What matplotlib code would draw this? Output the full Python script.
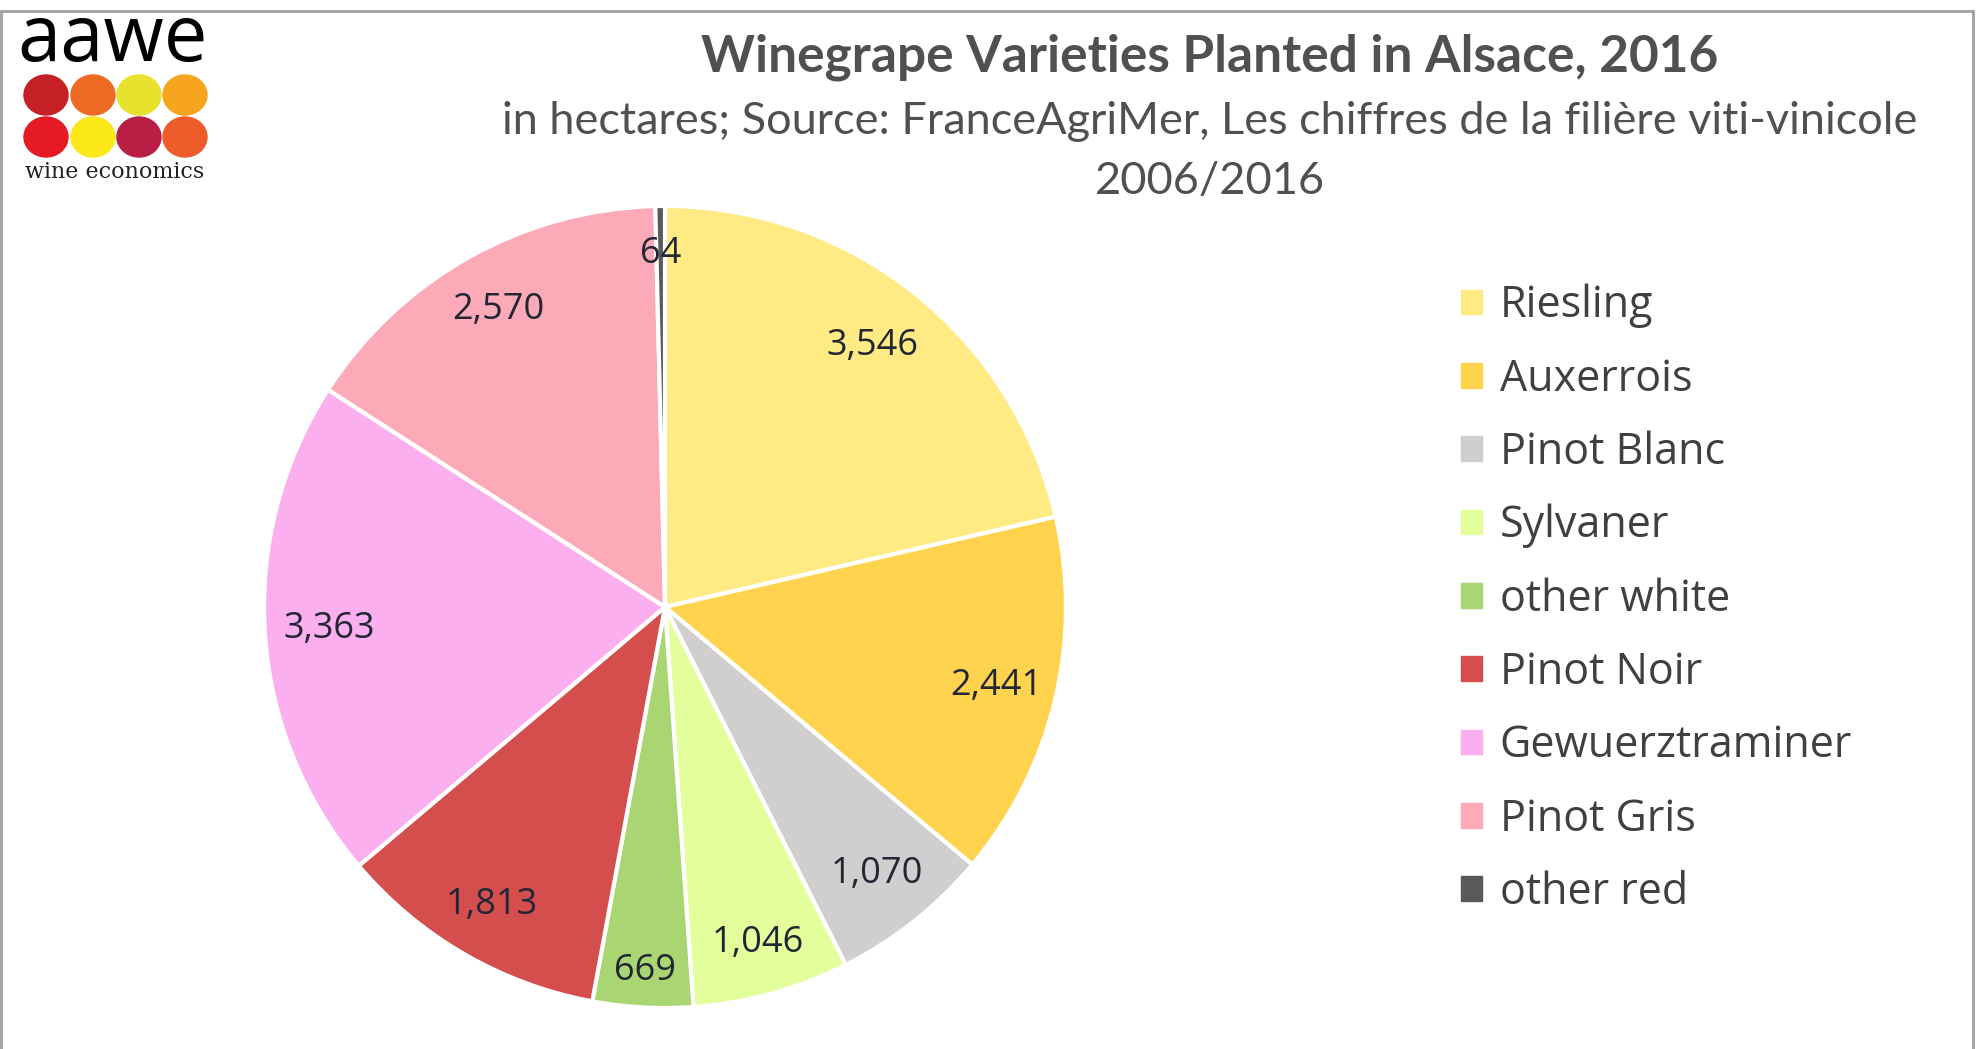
import matplotlib.pyplot as plt
import matplotlib.patches as mpatches
import numpy as np

# data: hectares per variety, Alsace 2016
varieties = ["Riesling", "Auxerrois", "Pinot Blanc", "Sylvaner", "other white",
             "Pinot Noir", "Gewuerztraminer", "Pinot Gris", "other red"]
hectares = [3546, 2441, 1070, 1046, 669, 1813, 3363, 2570, 64]
colors = ["#FFEA84", "#FFD34E", "#D0CECE", "#E2FF9C", "#A9D673",
          "#D44E4E", "#FCAFEF", "#FCA9B8", "#595959"]
logo_colors = ["#C42026", "#EE6A23", "#E8E22E", "#F7A51F",
               "#E61A25", "#FCE818", "#B91F45", "#EE5C2A"]

W, H = 1976, 1049
fig = plt.figure(figsize=(W / 100, H / 100), dpi=100)

# pie axes: centre (665, 607), radius ~401 px
R = 401
cx, cy = 665, 607
ax = fig.add_axes([(cx - R) / W, (H - cy - R) / H, 2 * R / W, 2 * R / H])
wedges, _ = ax.pie(hectares, colors=colors, startangle=90, counterclock=False,
                   wedgeprops=dict(edgecolor="white", linewidth=3))
ax.set_xlim(-1, 1)
ax.set_ylim(-1, 1)
ax.set_aspect("equal")

dist = [0.83, 0.85, 0.85, 0.87, 0.91, 0.86, 0.84, 0.85, 0.88]
for w, v, d in zip(wedges, hectares, dist):
    ang = np.deg2rad((w.theta1 + w.theta2) / 2)
    ax.text(d * np.cos(ang), d * np.sin(ang), f"{v:,}", ha="center", va="center",
            fontsize=26, color="#222633", family="Open Sans")

# legend
handles = [mpatches.Patch(color=c, label=v) for v, c in zip(varieties, colors)]
fig.legend(handles=handles, loc="upper left", bbox_to_anchor=(1422 / W, 1 - 245 / H),
           frameon=False, prop={"family": "Open Sans", "size": 31},
           labelcolor="#404040", handlelength=0.5, handleheight=0.5,
           handletextpad=0.4, labelspacing=0.67)

# titles
fig.text(1210 / W, 1 - 57 / H, "Winegrape Varieties Planted in Alsace, 2016",
         ha="center", va="center", fontsize=37, fontweight="bold",
         color="#505050", family="Lato")
fig.text(1210 / W, 1 - 122 / H,
         "in hectares; Source: FranceAgriMer, Les chiffres de la filière viti-vinicole",
         ha="center", va="center", fontsize=32.5, color="#505050", family="Lato")
fig.text(1210 / W, 1 - 182 / H, "2006/2016", ha="center", va="center",
         fontsize=32.5, color="#505050", family="Lato")

# logo
fig.text(113 / W, 1 - 40 / H, "aawe", ha="center", va="center", fontsize=56,
         color="black", family="Open Sans")
lx = [46, 93, 139, 185]
ly = [95, 137]
k = 0
for yy in ly:
    for xx in lx:
        fig.patches.append(mpatches.Ellipse((xx / W, 1 - yy / H), 44 / W, 40 / H,
                                            color=logo_colors[k], transform=fig.transFigure))
        k += 1
fig.text(115 / W, 1 - 172 / H, "wine economics", ha="center", va="center",
         fontsize=16, color="#222222", family="DejaVu Serif")

# border
fig.patches.append(mpatches.Rectangle((1 / W, -0.01), 1 - 4 / W, 1.0 - 1 / H, fill=False,
                                      edgecolor="#A0A0A0", linewidth=2,
                                      transform=fig.transFigure))

fig.savefig("out.png", dpi=100)
